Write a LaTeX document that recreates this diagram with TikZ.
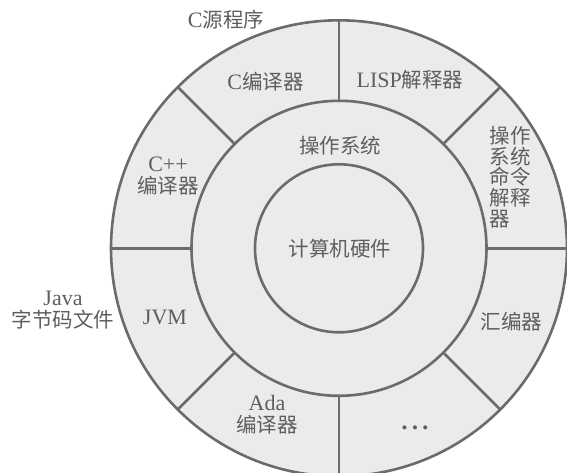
\documentclass[tikz,border=0pt]{standalone}
\usepackage{fontspec}
\setmainfont{Liberation Serif}
\newfontfamily\cjk{Noto Sans CJK SC}
\usetikzlibrary{calc}
\newcommand{\zh}[1]{{\cjk\fontsize{20.5}{22}\selectfont #1}}
\definecolor{linegray}{HTML}{6B6B6B}
\definecolor{txtgray}{HTML}{5E5E5E}
\definecolor{bggray}{HTML}{EBEBEB}
\begin{document}
\begin{tikzpicture}[x=1pt,y=-1pt,
  ring/.style={draw=linegray, line width=2.6pt},
  lab/.style={text=txtgray, font=\fontsize{22}{22}\selectfont, align=center, inner sep=0pt}]
\useasboundingbox (0,0) rectangle (567,473);
\clip (0,0) rectangle (567,473);
\fill[white] (0,0) rectangle (567,473);
\coordinate (O) at (339,248.3);
\fill[bggray] (O) circle[radius=228pt];
\foreach \a in {0,45,...,315}
  \draw[ring] ($(O)+(\a:147.5pt)$) -- ($(O)+(\a:228pt)$);
\draw[ring] (O) circle[radius=228pt];
\draw[ring] (O) circle[radius=147.5pt];
\draw[ring] (O) circle[radius=84pt];
\node[lab] (src) at (226,20) {C\zh{源程序}};
\node[lab] (cc) at (265.5,82) {C\zh{编译器}};
\node[lab] (lisp) at (410,80) {LISP\zh{解释器}};
\node[lab] (os) at (340,146) {\zh{操作系统}};
\node[lab, align=left, font=\cjk\fontsize{20.5}{20.7}\selectfont] (shell) at (510,177) {操作\\系统\\命令\\解释\\器};
\node[lab] (cpp) at (168,176) {C++\\\zh{编译器}};
\node[lab] (hw) at (340,248.3) {\zh{计算机硬件}};
\node[lab] (java) at (63,310.5) {Java\\\zh{字节码文件}};
\node[lab] (jvm) at (165,317) {JVM};
\node[lab] (asm) at (511.7,322) {\zh{汇编器}};
\node[lab] (ada) at (267,415) {Ada\\\zh{编译器}};
\node[lab, font=\fontsize{17}{17}\selectfont] (more) at (415,430) {\textbullet\hspace{4.5pt}\textbullet\hspace{4.5pt}\textbullet};
\end{tikzpicture}
\end{document}
